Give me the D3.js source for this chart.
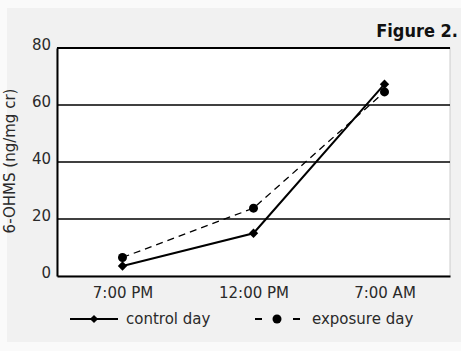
<!DOCTYPE html>
<html>
<head>
<meta charset="utf-8">
<script src="https://cdn.jsdelivr.net/npm/d3@7"></script>
<style>
  body { margin: 0; background: #fafafa; }
  svg { display: block; }
  text { font-family: 'DejaVu Sans', sans-serif; fill: #2a2a2a; }
</style>
</head>
<body>
<svg></svg>
<script>
'use strict'

const times = ['7:00 PM', '12:00 PM', '7:00 AM']
const controlDay = [3.5, 15, 67.3]
const exposureDay = [6.5, 23.8, 64.6]
const yTicks = [0, 20, 40, 60, 80]

const W = 461, H = 351
const margin = { top: 48, right: 11, bottom: 75, left: 57 }
const width = W - margin.left - margin.right,
  height = H - margin.top - margin.bottom

const svg = d3.select('svg').attr('width', W).attr('height', H)

// grey panel
svg.append('rect')
  .attr('x', 7).attr('y', 8)
  .attr('width', W - 7).attr('height', 334)
  .attr('fill', '#f1f1f1')

svg.append('text')
  .attr('x', 458).attr('y', 37)
  .attr('text-anchor', 'end')
  .style('font-family', "'DejaVu Sans Condensed', 'DejaVu Sans', sans-serif")
  .style('font-weight', 'bold')
  .style('font-size', '18px')
  .style('fill', '#111')
  .text('Figure 2.')

const g = svg.append('g')
  .attr('transform', 'translate(' + margin.left + ',' + margin.top + ')')

const x = d3.scalePoint().domain(times).range([0, width]).padding(0.5)
const y = d3.scaleLinear().domain([0, 80]).range([height, 0])

g.append('rect')
  .attr('width', width).attr('height', height)
  .attr('fill', '#fff')
  .attr('stroke', '#ccc')
  .attr('stroke-width', 1)

// grid lines
g.selectAll('.grid')
  .data(yTicks.slice(1))
  .enter()
  .append('line')
  .attr('x1', 0).attr('x2', width)
  .attr('y1', d => y(d)).attr('y2', d => y(d))
  .attr('stroke', '#000')
  .attr('stroke-width', d => d === 80 ? 2 : 1.3)

// axes
const yAxis = g.append('g')
  .call(d3.axisLeft(y).tickValues(yTicks).tickSize(0).tickPadding(6))
yAxis.select('.domain').attr('stroke', '#000').attr('stroke-width', 2)
yAxis.selectAll('text').style('font-size', '15px').attr('dy', '0.1em')

const xAxis = g.append('g')
  .attr('transform', 'translate(0,' + height + ')')
  .call(d3.axisBottom(x).tickSize(0).tickPadding(11))
xAxis.select('.domain').attr('stroke', '#000').attr('stroke-width', 2)
xAxis.selectAll('text').style('font-size', '15px')

svg.append('text')
  .attr('transform', 'translate(15,' + (margin.top + height / 2 - 1) + ') rotate(-90)')
  .attr('text-anchor', 'middle')
  .style('font-size', '15px')
  .text('6-OHMS (ng/mg cr)')

const line = d3.line().x((d, i) => x(times[i])).y(d => y(d))

g.append('path')
  .datum(exposureDay)
  .attr('d', line)
  .attr('fill', 'none')
  .attr('stroke', '#000')
  .attr('stroke-width', 1.3)
  .attr('stroke-dasharray', '7,5')

g.append('path')
  .datum(controlDay)
  .attr('d', line)
  .attr('fill', 'none')
  .attr('stroke', '#000')
  .attr('stroke-width', 2)

// diamond = square turned 45 degrees
const diamond = d3.symbol().type(d3.symbolSquare).size(44)

g.selectAll('.ex')
  .data(exposureDay)
  .enter()
  .append('circle')
  .attr('cx', (d, i) => x(times[i]))
  .attr('cy', d => y(d))
  .attr('r', 4.5)
  .attr('fill', '#000')

g.selectAll('.ct')
  .data(controlDay)
  .enter()
  .append('path')
  .attr('d', diamond)
  .attr('transform', (d, i) => 'translate(' + x(times[i]) + ',' + y(d) + ') rotate(45)')
  .attr('fill', '#000')

// legend
const leg = svg.append('g').attr('transform', 'translate(0,319)')
leg.append('line')
  .attr('x1', 70).attr('x2', 118).attr('y1', 0).attr('y2', 0)
  .attr('stroke', '#000').attr('stroke-width', 2)
leg.append('path')
  .attr('d', d3.symbol().type(d3.symbolSquare).size(34))
  .attr('transform', 'translate(94,0) rotate(45)')
leg.append('text')
  .attr('x', 126).attr('y', 5)
  .style('font-size', '15px')
  .text('control day')

leg.selectAll('.dash')
  .data([[255, 262], [293, 300]])
  .enter()
  .append('line')
  .attr('x1', d => d[0]).attr('x2', d => d[1])
  .attr('y1', 0).attr('y2', 0)
  .attr('stroke', '#000').attr('stroke-width', 2)
leg.append('circle')
  .attr('cx', 277).attr('cy', 0).attr('r', 4.5)
leg.append('text')
  .attr('x', 312).attr('y', 5)
  .style('font-size', '15px')
  .text('exposure day')
</script>
</body>
</html>
